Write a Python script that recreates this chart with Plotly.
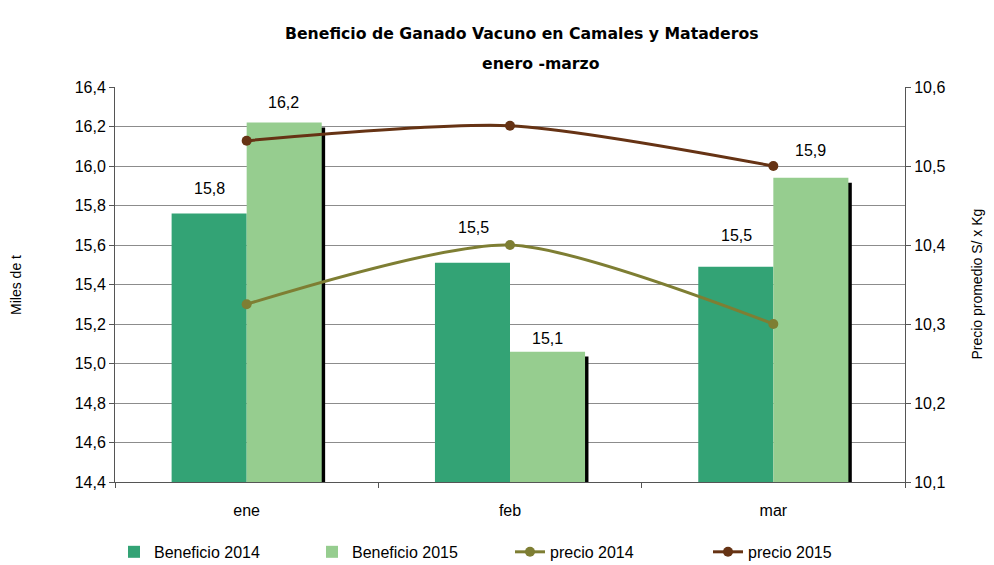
import plotly.graph_objects as go

# data
meses = ["ene", "feb", "mar"]
beneficio_2014 = [15.76, 15.51, 15.49]
beneficio_2015 = [16.22, 15.06, 15.94]
precio_2014 = [10.325, 10.40, 10.30]
precio_2015 = [10.532, 10.551, 10.50]

# pixel offsets of the value labels above each bar (they are placed by hand in the original)
shift_2014 = [25, 35, 31]
shift_2015 = [20, 13, 27]

c2014 = "#33A375"
c2015 = "#96CD8F"
cp2014 = "#7E7E33"
cp2015 = "#663314"
font = "Liberation Sans, Arial, sans-serif"

w = 0.285
fig = go.Figure()

# shadow behind the 2015 bars (thin dark edge on the right)
fig.add_trace(go.Bar(x=meses, y=[v - 0.025 for v in beneficio_2015], width=w, offset=0.013,
                     marker=dict(color="black", line_width=0), showlegend=False, hoverinfo="skip"))
fig.add_trace(go.Bar(x=meses, y=beneficio_2014, name="Beneficio 2014", width=w, offset=-w,
                     marker=dict(color=c2014, line_width=0)))
fig.add_trace(go.Bar(x=meses, y=beneficio_2015, name="Beneficio 2015", width=w, offset=0,
                     marker=dict(color=c2015, line_width=0)))
fig.add_trace(go.Scatter(x=meses, y=precio_2014, name="precio 2014", yaxis="y2",
                         mode="lines+markers", line=dict(color=cp2014, width=3, shape="spline", smoothing=0.7),
                         marker=dict(size=10, color=cp2014)))
fig.add_trace(go.Scatter(x=meses, y=precio_2015, name="precio 2015", yaxis="y2",
                         mode="lines+markers", line=dict(color=cp2015, width=3, shape="spline", smoothing=0.7),
                         marker=dict(size=10, color=cp2015)))

# value labels above the bars
for i, m in enumerate(meses):
    fig.add_annotation(x=m, y=beneficio_2014[i], text=f"{beneficio_2014[i]:.1f}".replace(".", ","),
                       xshift=-37, yshift=shift_2014[i], showarrow=False, font=dict(size=16, color="black"))
    fig.add_annotation(x=m, y=beneficio_2015[i], text=f"{beneficio_2015[i]:.1f}".replace(".", ","),
                       xshift=37, yshift=shift_2015[i], showarrow=False, font=dict(size=16, color="black"))

fig.add_annotation(xref="paper", yref="paper", x=0.515, y=1.165,
                   text="<b>Beneficio de Ganado Vacuno en Camales y Mataderos</b>",
                   showarrow=False, font=dict(family="DejaVu Sans", size=15.7, color="black"))
fig.add_annotation(xref="paper", yref="paper", x=0.539, y=1.089, text="<b>enero -marzo</b>",
                   showarrow=False, font=dict(family="DejaVu Sans", size=15.7, color="black"))

# axis titles
fig.add_annotation(xref="paper", yref="paper", x=-0.126, y=0.5, xanchor="center", yanchor="middle",
                   text="Miles de t", textangle=-90, showarrow=False, font=dict(size=14, color="black"))
fig.add_annotation(xref="paper", yref="paper", x=1.09, y=0.5, xanchor="center", yanchor="middle",
                   text="Precio promedio S/ x Kg", textangle=-90, showarrow=False,
                   font=dict(size=14, color="black"))

# the page body adds an 8px margin, so the figure is 8px smaller and margins are trimmed
fig.update_layout(
    width=986, height=557,
    margin=dict(l=107, r=89, t=79, b=83, autoexpand=False),
    paper_bgcolor="white", plot_bgcolor="white",
    font=dict(family=font, size=16, color="black"),
    barmode="overlay",
    showlegend=True,
    legend=dict(orientation="h", x=0.5, xanchor="center", y=-0.177, yanchor="middle",
                font=dict(size=16), entrywidth=153, itemwidth=30),
    xaxis=dict(type="category", tickson="boundaries", ticks="outside", ticklen=5, tickcolor="#555",
               showline=True, linecolor="#555", linewidth=1, showgrid=False, ticklabelstandoff=14,
               automargin=False),
    yaxis=dict(range=[14.4, 16.4], tickvals=[14.4 + 0.2 * k for k in range(11)],
               ticktext=[f"{14.4 + 0.2 * k:.1f}".replace(".", ",") for k in range(11)],
               ticks="outside", ticklen=5, tickcolor="#555", showline=True, linecolor="#555",
               showgrid=True, gridcolor="#8c8c8c", gridwidth=1, zeroline=False, automargin=False),
    yaxis2=dict(range=[10.1, 10.6], tickvals=[10.1 + 0.1 * k for k in range(6)],
                ticktext=[f"{10.1 + 0.1 * k:.1f}".replace(".", ",") for k in range(6)],
                overlaying="y", side="right", ticks="outside", ticklen=5, tickcolor="#555",
                showline=True, linecolor="#555", showgrid=False, zeroline=False, automargin=False),
)

fig.write_html("out.html")
